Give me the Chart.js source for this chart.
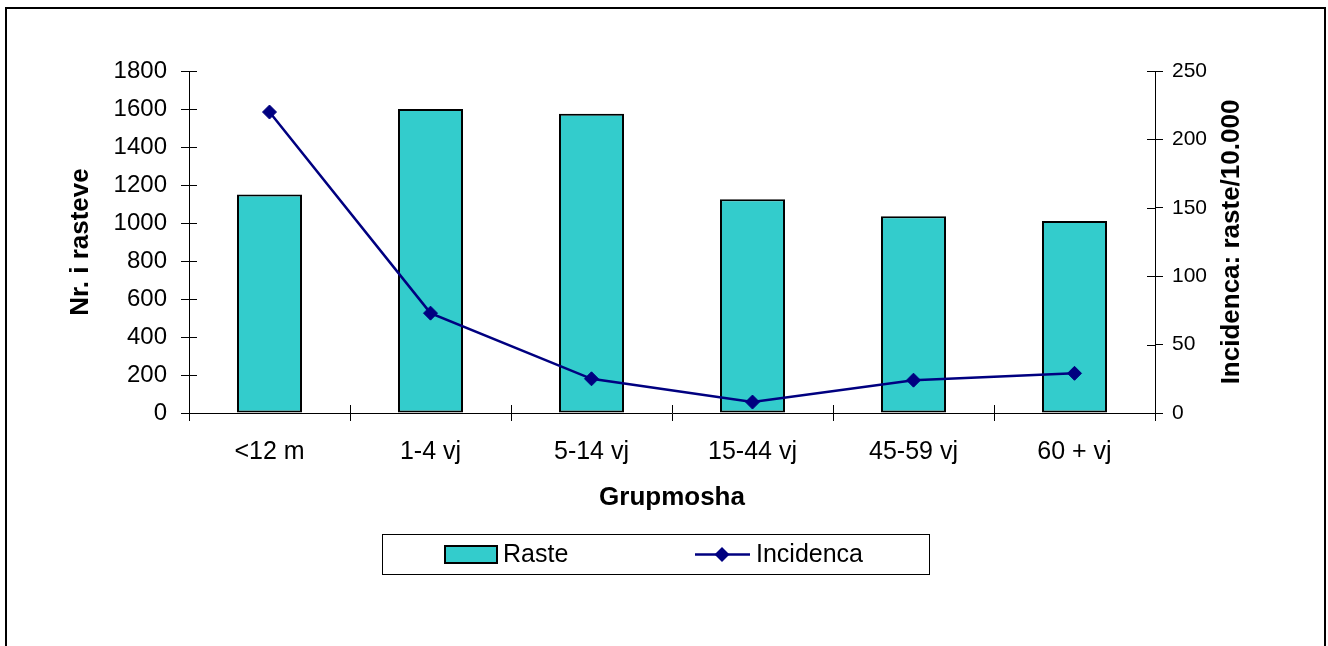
<!DOCTYPE html>
<html>
<head>
<meta charset="utf-8">
<script src="https://cdn.jsdelivr.net/npm/chart.js@4.4.1/dist/chart.umd.min.js"></script>
<style>
    html, body { margin: 0; padding: 0; background: #fff; }
    #wrap { width: 1328px; height: 646px; }
</style>
</head>
<body>
<div id="wrap"><canvas id="grupmosha" width="1328" height="646"></canvas></div>
<script>
var categories = ['<12 m', '1-4 vj', '5-14 vj', '15-44 vj', '45-59 vj', '60 + vj'];
var rasteValues = [1150, 1600, 1575, 1125, 1035, 1010];
var incidencaValues = [220, 73, 25, 8, 24, 29];
var leftRange = [0, 1800, 200];
var rightRange = [0, 250, 50];

var FONT = '"Liberation Sans", Arial, sans-serif';

/* Korniza e jashtme */
var framePlugin = {
    id: 'frame',
    beforeDraw: function (chart) {
        var ctx = chart.ctx;
        ctx.save();
        ctx.fillStyle = '#fff';
        ctx.fillRect(0, 0, chart.width, chart.height);
        ctx.strokeStyle = '#000';
        ctx.lineWidth = 2;
        ctx.strokeRect(6, 8, 1319, 700);
        ctx.restore();
    }
};

/* Vijat e ndarjes brenda boshtit */
var crossTicks = {
    id: 'crossTicks',
    afterDraw: function (chart) {
        var ctx = chart.ctx, a = chart.chartArea;
        var y = chart.scales.y, y1 = chart.scales.y1, x = chart.scales.x;
        ctx.save();
        ctx.strokeStyle = '#000';
        ctx.lineWidth = 1;
        ctx.beginPath();
        y.ticks.forEach(function (t, i) {
            var py = Math.round(y.getPixelForTick(i)) + 0.5;
            ctx.moveTo(a.left, py); ctx.lineTo(a.left + 8, py);
        });
        y1.ticks.forEach(function (t, i) {
            var py = Math.round(y1.getPixelForTick(i)) + 0.5;
            ctx.moveTo(a.right - 8, py); ctx.lineTo(a.right, py);
        });
        for (var i = 0; i <= categories.length; i++) {
            var px = Math.round(x.getPixelForValue(i - 0.5)) + 0.5;
            ctx.moveTo(px, a.bottom - 8); ctx.lineTo(px, a.bottom);
        }
        ctx.stroke();
        ctx.restore();
    }
};

/* Titulli i boshtit te djathte */
var rightTitle = {
    id: 'rightTitle',
    afterDraw: function (chart) {
        var ctx = chart.ctx, a = chart.chartArea;
        ctx.save();
        ctx.translate(1232, (a.top + a.bottom) / 2);
        ctx.rotate(-Math.PI / 2);
        ctx.font = 'bold 26px ' + FONT;
        ctx.fillStyle = '#000';
        ctx.textAlign = 'center';
        ctx.textBaseline = 'middle';
        ctx.fillText('Incidenca: raste/10.000', 0, 0);
        ctx.restore();
    }
};

/* Legjenda */
var legendBox = {
    id: 'legendBox',
    afterDraw: function (chart) {
        var ctx = chart.ctx;
        var bar = chart.data.datasets[0], line = chart.data.datasets[1];
        var cy = 554.5;
        ctx.save();
        ctx.fillStyle = '#fff';
        ctx.fillRect(382, 534, 547, 40);
        ctx.strokeStyle = '#000';
        ctx.lineWidth = 1;
        ctx.strokeRect(382.5, 534.5, 547, 40);

        ctx.fillStyle = bar.backgroundColor;
        ctx.fillRect(445, 546, 52, 17);
        ctx.lineWidth = 2;
        ctx.strokeStyle = bar.borderColor;
        ctx.strokeRect(445, 546, 52, 17);

        ctx.strokeStyle = line.borderColor;
        ctx.lineWidth = line.borderWidth;
        ctx.beginPath();
        ctx.moveTo(695, cy); ctx.lineTo(750, cy);
        ctx.stroke();
        ctx.fillStyle = line.backgroundColor;
        ctx.beginPath();
        ctx.moveTo(722 - 7.5, cy); ctx.lineTo(722, cy - 7.5);
        ctx.lineTo(722 + 7.5, cy); ctx.lineTo(722, cy + 7.5);
        ctx.closePath();
        ctx.fill();

        ctx.fillStyle = '#000';
        ctx.font = '25px ' + FONT;
        ctx.textAlign = 'left';
        ctx.textBaseline = 'middle';
        ctx.fillText(bar.label, 503, cy + 1);
        ctx.fillText(line.label, 756, cy + 1);
        ctx.restore();
    }
};

function plainNumber(v) {
    return String(v);
}

document.addEventListener('DOMContentLoaded', function () {
    var ctx = document.getElementById('grupmosha').getContext('2d');

    new Chart(ctx, {
        type: 'bar',
        data: {
            labels: categories,
            datasets: [{
                label: 'Raste',
                data: rasteValues,
                backgroundColor: '#33CCCC',
                borderColor: '#000',
                borderWidth: 2,
                borderSkipped: false,
                barPercentage: 0.404,
                categoryPercentage: 1,
                yAxisID: 'y',
                order: 1
            }, {
                type: 'line',
                label: 'Incidenca',
                data: incidencaValues,
                borderColor: '#000080',
                backgroundColor: '#000080',
                borderWidth: 2.5,
                pointStyle: 'rectRot',
                pointRadius: 7,
                pointBorderWidth: 1,
                tension: 0,
                yAxisID: 'y1',
                order: 0
            }]
        },
        options: {
            responsive: false,
            animation: false,
            devicePixelRatio: 1,
            layout: { padding: { top: 71, left: 0, right: 0, bottom: 0 } },
            plugins: {
                legend: { display: false },
                tooltip: { enabled: false }
            },
            scales: {
                x: {
                    offset: true,
                    grid: { display: true, drawOnChartArea: false, drawTicks: true, tickLength: 8, color: '#000', offset: true },
                    border: { display: true, color: '#000', width: 1 },
                    ticks: { color: '#000', font: { family: FONT, size: 25 }, padding: 16, maxRotation: 0, autoSkip: false },
                    title: { display: true, text: 'Grupmosha', color: '#000', font: { family: FONT, size: 26, weight: 'bold' }, padding: { top: 0, bottom: 133 } },
                    afterFit: function (s) { s.height = 233; }
                },
                y: {
                    position: 'left',
                    min: leftRange[0],
                    max: leftRange[1],
                    grid: { display: true, drawOnChartArea: false, drawTicks: true, tickLength: 8, color: '#000' },
                    border: { display: true, color: '#000', width: 1 },
                    ticks: { stepSize: leftRange[2], color: '#000', font: { family: FONT, size: 24 }, padding: 14, callback: plainNumber },
                    title: { display: true, text: 'Nr. i rasteve', color: '#000', font: { family: FONT, size: 26, weight: 'bold' }, padding: { top: 65, bottom: 0 } },
                    afterFit: function (s) { s.width = 189; }
                },
                y1: {
                    position: 'right',
                    min: rightRange[0],
                    max: rightRange[1],
                    grid: { display: true, drawOnChartArea: false, drawTicks: true, tickLength: 8, color: '#000' },
                    border: { display: true, color: '#000', width: 1 },
                    ticks: { stepSize: rightRange[2], color: '#000', font: { family: FONT, size: 21 }, padding: 9, callback: plainNumber },
                    afterFit: function (s) { s.width = 173; }
                }
            }
        },
        plugins: [framePlugin, crossTicks, rightTitle, legendBox]
    });
});
</script>
</body>
</html>
